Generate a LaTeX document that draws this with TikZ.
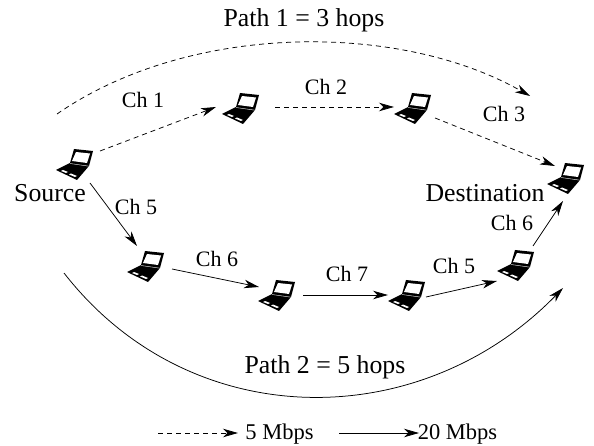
\documentclass[tikz,border=0pt]{standalone}
\usepackage{fontspec}
\setmainfont{Liberation Serif}
\usetikzlibrary{arrows.meta,calc}
\tikzset{
  x=1pt,y=-1pt,
  lapnode/.style={circle,minimum size=20pt,inner sep=0pt},
  link/.style={line width=0.75pt,-{Stealth[length=15pt,width=8.5pt,inset=4.5pt]}},
  slow/.style={link,dash pattern=on 5pt off 4pt},
  fast/.style={link},
  chlab/.style={font=\fontsize{22}{24}\selectfont,inner sep=0pt},
  biglab/.style={font=\fontsize{25.8}{28}\selectfont,inner sep=0pt},
  pathlab/.style={font=\fontsize{25.8}{28}\selectfont,inner sep=0pt},
  leglab/.style={font=\fontsize{22.5}{24}\selectfont,inner sep=0pt},
  laptop/.pic={
    \fill[black] (-1,-14) -- (18,-12) -- (14,3) -- (2,17) -- (-19,7) -- (-5,0) -- cycle;
    \fill[white] (1,-11) -- (15,-9.5) -- (12,0) -- (-3,-2) -- cycle;
    \draw[white,line width=0.4pt] (-5,0.5) -- (14,3.2);
    \fill[white] (-14,8) -- (-9,10) -- (-7,9) -- (-12,7) -- cycle;
    \fill[white] (-6,11.5) -- (0,14) -- (2,13) -- (-4,10.5) -- cycle;
  }
}
\begin{document}
\begin{tikzpicture}
\useasboundingbox (0,0) rectangle (594,446);
\node[lapnode] (s) at (75,163) {};
\node[lapnode] (a) at (241,107) {};
\node[lapnode] (b) at (413,107) {};
\node[lapnode] (d) at (566,177) {};
\node[lapnode] (c) at (146,265) {};
\node[lapnode] (e) at (277,294) {};
\node[lapnode] (f) at (407,294) {};
\node[lapnode] (g) at (516,264) {};
\foreach \n in {s,a,b,d,c,e,f,g} \pic at (\n) {laptop};
\draw[slow] ($(s)+(25,-12)$) -- ($(a)+(-25,0)$);
\draw[slow] ($(a)+(34,0)$) -- ($(b)+(-19,0)$);
\draw[slow] ($(b)+(22,11)$) -- ($(d)+(-11,-11)$);
\draw[fast] ($(s)+(15,20)$) -- ($(c)+(-9,-19)$);
\draw[fast] ($(c)+(26,4)$) -- ($(e)+(-18,-7)$);
\draw[fast] ($(e)+(26,1)$) -- ($(f)+(-19,1)$);
\draw[fast] ($(f)+(19,3)$) -- ($(g)+(-19,17)$);
\draw[fast] ($(g)+(17,-18)$) -- ($(d)+(-3,24)$);
\coordinate (p1a) at (57,114);
\coordinate (p1b) at (530,96);
\coordinate (p2a) at (64,273);
\coordinate (p2b) at (563,288);
\draw[slow] (p1a) .. controls (190,22) and (400,22) .. (p1b);
\draw[fast] (p2a) .. controls (190,435) and (420,435) .. (p2b);
\coordinate (l1a) at (158,433);
\coordinate (l1b) at (238,433);
\coordinate (l2a) at (339,433);
\coordinate (l2b) at (419,433);
\draw[slow] (l1a) -- (l1b);
\draw[fast] (l2a) -- (l2b);
\node[pathlab] (t1) at (304,20) {Path 1 = 3 hops};
\node[pathlab] (t2) at (325,367) {Path 2 = 5 hops};
\node[biglab] (t3) at (50,193) {Source};
\node[biglab] (t4) at (485,193) {Destination};
\node[chlab] (c1) at (143,100) {Ch 1};
\node[chlab] (c2) at (326,87) {Ch 2};
\node[chlab] (c3) at (504,114) {Ch 3};
\node[chlab] (c4) at (136,207) {Ch 5};
\node[chlab] (c5) at (217,259) {Ch 6};
\node[chlab] (c6) at (347,274) {Ch 7};
\node[chlab] (c7) at (454,266) {Ch 5};
\node[chlab] (c8) at (512,223) {Ch 6};
\node[leglab] (l1) at (279.5,434.5) {5 Mbps};
\node[leglab] (l2) at (457.5,434.5) {20 Mbps};
\end{tikzpicture}
\end{document}
